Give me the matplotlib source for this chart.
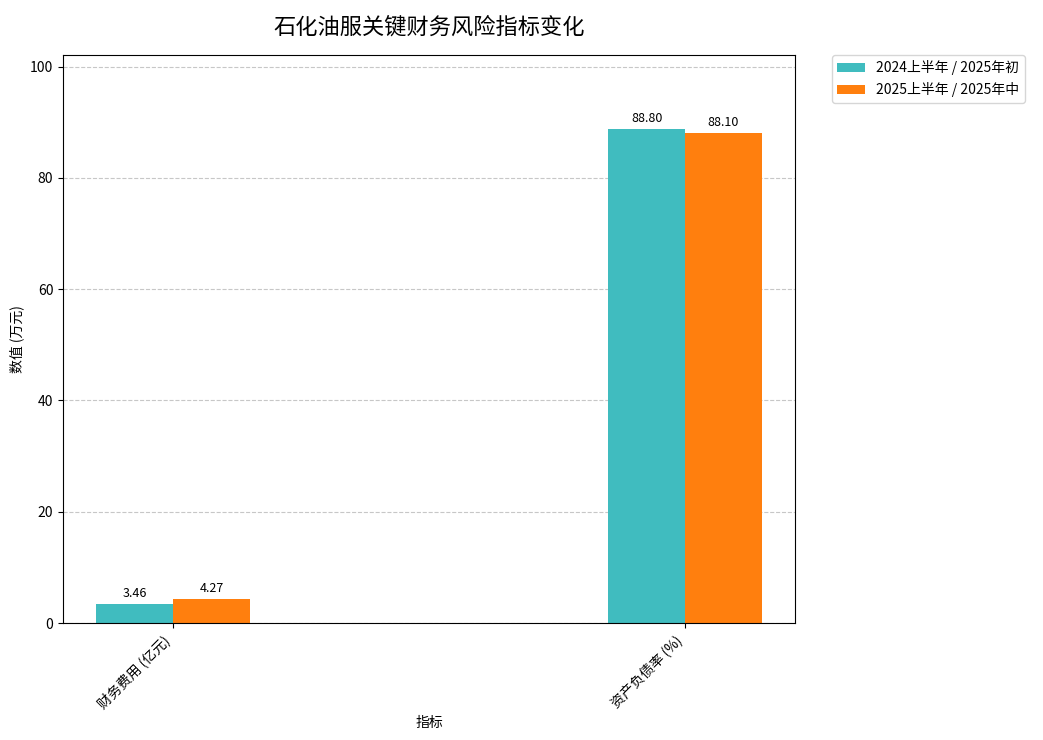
import numpy as np
import matplotlib
matplotlib.use('Agg')
from matplotlib import pyplot as plt

plt.rcParams['font.family'] = ['Noto Sans CJK SC', 'DejaVu Sans']
plt.rcParams['axes.unicode_minus'] = False

# data
categories = ['财务费用 (亿元)', '资产负债率 (%)']
series_names = ['2024上半年 / 2025年初', '2025上半年 / 2025年中']
values_first = [3.46, 88.80]
values_second = [4.27, 88.10]
colors = ['#40BCBF', '#FF7F0E']

fig = plt.figure(figsize=(10.43, 7.4), dpi=100)
ax = fig.add_axes([0.0604, 0.158, 0.702, 0.768])

x = np.arange(len(categories))
width = 0.15

bars1 = ax.bar(x - width / 2, values_first, width, label=series_names[0], color=colors[0])
bars2 = ax.bar(x + width / 2, values_second, width, label=series_names[1], color=colors[1])

# value labels above bars
for bars in (bars1, bars2):
    for b in bars:
        h = b.get_height()
        ax.annotate(f'{h:.2f}', xy=(b.get_x() + b.get_width() / 2, h),
                    xytext=(0, 3), textcoords='offset points',
                    ha='center', va='bottom', fontsize=9)

ax.set_ylim(0, max(values_first + values_second) * 1.15)
ax.set_xticks(x)
ax.set_xticklabels(categories, rotation=45, ha='right', fontsize=10)
ax.set_xlabel('指标', fontsize=10)
ax.set_ylabel('数值 (万元)', fontsize=10)
ax.set_title('石化油服关键财务风险指标变化', fontsize=16, pad=15)
ax.grid(axis='y', linestyle='--', alpha=0.7)
ax.set_axisbelow(True)
ax.legend(bbox_to_anchor=(1.05, 1), loc='upper left', borderaxespad=0, fontsize=10)

plt.savefig('out.png', dpi=100)
